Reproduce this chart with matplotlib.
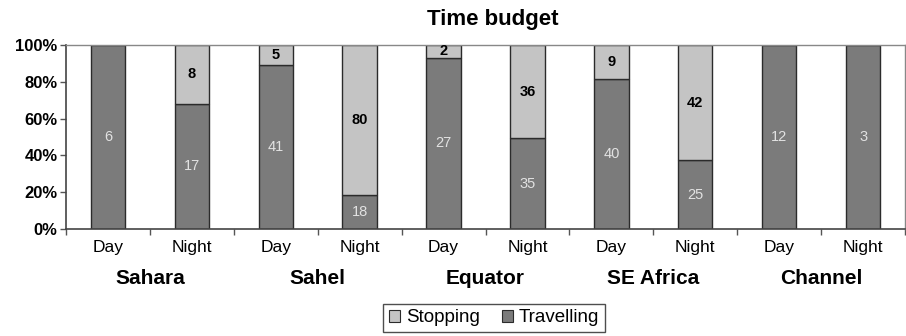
import matplotlib
matplotlib.use("Agg")
import matplotlib.pyplot as plt
import numpy as np
from matplotlib.patches import Patch

plt.rcParams['font.family'] = ['Liberation Sans', 'DejaVu Sans']

regions = ["Sahara", "Sahel", "Equator", "SE Africa", "Channel"]
periods = ["Day", "Night"]
travelling = [6, 17, 41, 18, 27, 35, 40, 25, 12, 3]
stopping = [0, 8, 5, 80, 2, 36, 9, 42, 0, 0]

trav = np.array(travelling, dtype=float)
stop = np.array(stopping, dtype=float)
total = trav + stop
trav_pct = trav / total * 100
stop_pct = stop / total * 100

dark = "#7b7b7b"
light = "#c4c4c4"
edge = "#2b2b2b"

fig = plt.figure(figsize=(9.06, 3.36), dpi=100)
ax = fig.add_axes([66 / 906, 107 / 336, 839 / 906, 184 / 336])

x = np.arange(len(travelling))
w = 0.41
ax.bar(x, trav_pct, w, color=dark, edgecolor=edge, linewidth=1.0, label="Travelling")
ax.bar(x, stop_pct, w, bottom=trav_pct, color=light, edgecolor=edge, linewidth=1.0,
       label="Stopping")

for i in range(len(x)):
    ax.text(x[i], trav_pct[i] / 2, str(travelling[i]), ha="center", va="center",
            color="#e2e2e2", fontsize=10.5)
    if stopping[i] > 0:
        ax.text(x[i], trav_pct[i] + stop_pct[i] / 2, str(stopping[i]), ha="center",
                va="center", color="black", fontsize=10.5, fontweight="bold")

ax.set_xlim(-0.5, len(x) - 0.5)
ax.set_ylim(0, 100)
ax.set_yticks(np.arange(0, 101, 20))
ax.set_yticklabels([f"{v}%" for v in range(0, 101, 20)], fontsize=12, fontweight="bold")
ax.set_xticks(np.arange(-0.5, len(x), 1.0))
ax.set_xticklabels([])
ax.tick_params(axis="x", length=4, width=1, color="#555555", direction="out")
ax.tick_params(axis="y", length=4, width=1, color="#555555", direction="out", pad=2)

for s in ["top", "right"]:
    ax.spines[s].set_color("#888888")
    ax.spines[s].set_linewidth(1.0)
for s in ["left", "bottom"]:
    ax.spines[s].set_color("#444444")
    ax.spines[s].set_linewidth(1.2)

# period labels under each bar
for i in range(len(x)):
    ax.text(x[i], -0.1, periods[i % 2], transform=ax.get_xaxis_transform(),
            ha="center", va="center", fontsize=12.5)
# region labels centered under each pair
for j, r in enumerate(regions):
    ax.text(2 * j + 0.5, -0.27, r, transform=ax.get_xaxis_transform(),
            ha="center", va="center", fontsize=15, fontweight="bold")

fig.text(493 / 906, 1 - 19 / 336, "Time budget", ha="center", va="center",
         fontsize=16, fontweight="bold")

handles = [Patch(facecolor=light, edgecolor=edge, linewidth=0.8),
           Patch(facecolor=dark, edgecolor=edge, linewidth=0.8)]
leg = fig.legend(handles, ["Stopping", "Travelling"], loc="center",
                 bbox_to_anchor=(494 / 906, 1 - 318 / 336), ncol=2, fontsize=13.5,
                 frameon=True, fancybox=False, edgecolor="#222222",
                 handlelength=0.6, handleheight=0.6, handletextpad=0.3,
                 columnspacing=1.2, borderpad=0.3, borderaxespad=0)
leg.get_frame().set_linewidth(1.0)

fig.savefig("out.png", dpi=100)
